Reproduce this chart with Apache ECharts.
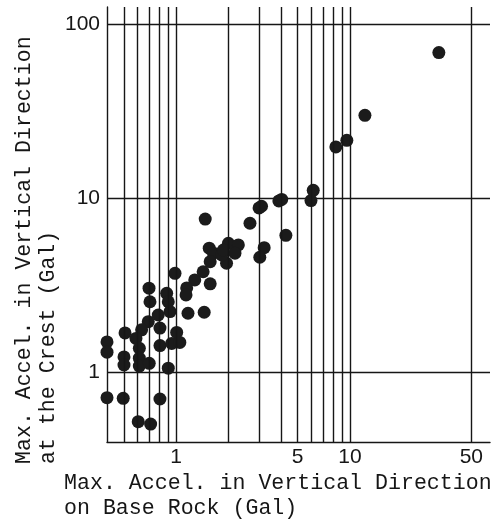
<!DOCTYPE html>
<html>
<head>
<meta charset="utf-8">
<script src="https://cdn.jsdelivr.net/npm/echarts@6/dist/echarts.min.js"></script>
<style>
  html, body { margin: 0; padding: 0; background: #ffffff; }
  #chart { width: 500px; height: 524px; }
</style>
</head>
<body>
<div id="chart"></div>
<script>
// Peak vertical acceleration on base rock (Gal) for each record
const baseRock = [
  32.5, 12.2, 8.3, 9.6, 6.15, 5.97, 3.9, 4.05, 3.0, 3.1, 2.66, 4.28, 3.21, 3.03, 1.47,
  2.0, 2.28, 2.18, 1.95, 1.55, 1.64, 1.83, 1.57, 1.43, 1.28, 1.57, 1.15, 1.14, 0.985, 1.17, 1.45, 1.87,
  0.707, 0.698, 0.882, 0.901, 0.922, 0.789, 0.691, 0.633, 0.508, 0.807, 1.007, 0.587,
  0.40, 0.40, 0.614, 0.807, 0.943, 1.05, 0.501, 0.501, 0.614, 0.614, 0.700, 0.901,
  0.40, 0.496, 0.807, 0.605, 0.713
];
// Peak vertical acceleration at the crest (Gal) for the same records
const crest = [
  68.5, 29.9, 19.7, 21.5, 11.1, 9.7, 9.65, 9.85, 8.8, 9.0, 7.19, 6.13, 5.21, 4.59, 7.6,
  5.52, 5.40, 4.84, 4.24, 5.17, 4.84, 4.73, 4.33, 3.79, 3.40, 3.23, 3.06, 2.79, 3.71, 2.19, 2.22, 5.05,
  2.55, 3.05, 2.85, 2.55, 2.24, 2.14, 1.96, 1.76, 1.69, 1.80, 1.70, 1.57,
  1.50, 1.31, 1.38, 1.43, 1.47, 1.49, 1.23, 1.106, 1.21, 1.09, 1.13, 1.06,
  0.718, 0.712, 0.706, 0.523, 0.507
];

// Vertical rulings of the log paper and the ones carrying a number
const xGridValues = [0.5, 0.6, 0.7, 0.8, 0.9, 1, 2, 3, 4, 5, 6, 7, 8, 9, 10, 50];
const xTickValues = [1, 5, 10, 50];
const xTickLabels = ['1', '5', '10', '50'];

const xTitle = ['Max. Accel. in Vertical Direction', 'on Base Rock (Gal)'];
const yTitle = ['Max. Accel. in Vertical Direction', 'at the Crest (Gal)'];

const ink = '#161616';
const ruleWidth = 1.4;
const tickFont = 'Liberation Sans';
const titleFont = '21.6px "Liberation Mono"';

const chart = echarts.init(document.getElementById('chart'), null, { renderer: 'canvas' });

chart.setOption({
  animation: false,
  backgroundColor: '#ffffff',
  grid: { left: 107, right: 10, top: 7, bottom: 82 },
  xAxis: {
    type: 'log',
    min: 0.4,
    max: 64,
    axisLine: { show: true, onZero: false, lineStyle: { color: ink, width: ruleWidth } },
    axisTick: { show: false },
    axisLabel: { show: false },
    splitLine: { show: false }
  },
  yAxis: {
    type: 'log',
    min: 0.4,
    max: 125,
    axisLine: { show: true, onZero: false, lineStyle: { color: ink, width: ruleWidth } },
    axisTick: { show: false },
    axisLabel: {
      showMinLabel: false,
      showMaxLabel: false,
      fontFamily: tickFont,
      fontSize: 21,
      color: ink,
      margin: 7
    },
    splitLine: {
      show: true,
      showMinLine: false,
      showMaxLine: false,
      lineStyle: { color: ink, width: ruleWidth }
    }
  },
  series: [{
    type: 'scatter',
    data: baseRock.map((x, i) => [x, crest[i]]),
    symbol: 'circle',
    symbolSize: 13,
    clip: false,
    z: 3,
    itemStyle: { color: '#1b1b1b', opacity: 1 },
    emphasis: { disabled: true },
    markLine: {
      silent: true,
      animation: false,
      symbol: ['none', 'none'],
      lineStyle: { color: ink, width: ruleWidth, type: 'solid' },
      label: { show: false },
      emphasis: { disabled: true },
      data: xGridValues.map(v => {
        const k = xTickValues.indexOf(v);
        return {
          xAxis: v,
          label: k >= 0 ? {
            show: true,
            position: 'start',
            formatter: xTickLabels[k],
            fontFamily: tickFont,
            fontSize: 21,
            color: ink,
            distance: 5
          } : { show: false }
        };
      })
    }
  }],
  graphic: [
    {
      type: 'text',
      left: 64,
      top: 471,
      style: { text: xTitle.join('\n'), font: titleFont, lineHeight: 25, fill: ink }
    },
    {
      type: 'text',
      x: 12,
      y: 464,
      rotation: Math.PI / 2,
      style: {
        text: yTitle.join('\n'),
        font: titleFont,
        lineHeight: 24,
        fill: ink,
        align: 'left',
        verticalAlign: 'top'
      }
    }
  ]
});
</script>
</body>
</html>
